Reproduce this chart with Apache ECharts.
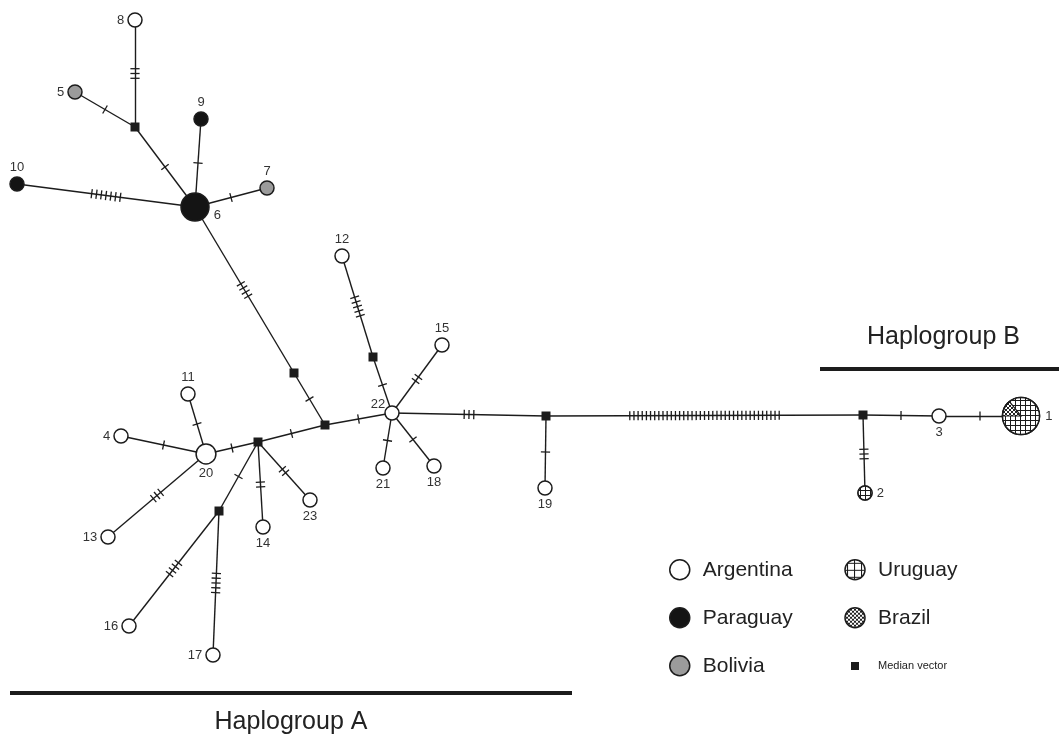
<!DOCTYPE html>
<html>
<head>
<meta charset="utf-8">
<script src="https://cdn.jsdelivr.net/npm/echarts@6/dist/echarts.min.js"></script>
<style>
  html, body { margin: 0; padding: 0; background: #fff; }
  #chart { width: 1059px; height: 738px; }
</style>
</head>
<body>
<div id="chart"></div>
<script>
// haplotypes (1-23) and median vectors (mv*), positions
const nodeNames = ['1','2','3','4','5','6','7','8','9','10','11','12','13','14','15','16','17','18','19','20','21','22','23',
  'mv1','mv2','mv3','mv4','mv5','mv6','mv7','mv8'];
const nodeX = [1021, 865, 939, 121, 75, 195, 267, 135, 201, 17, 188, 342, 108, 263, 442, 129, 213, 434, 545, 206, 383, 392, 310,
  135, 294, 325, 258, 219, 373, 546, 863];
const nodeY = [416, 493, 416, 436, 92, 207, 188, 20, 119, 184, 394, 256, 537, 527, 345, 626, 655, 466, 488, 454, 468, 413, 500,
  127, 373, 425, 442, 511, 357, 416, 415];
const nodeGroup = ['Uruguay','Uruguay','Argentina','Argentina','Bolivia','Paraguay','Bolivia','Argentina','Paraguay','Paraguay',
  'Argentina','Argentina','Argentina','Argentina','Argentina','Argentina','Argentina','Argentina','Argentina','Argentina','Argentina','Argentina','Argentina',
  'Median vector','Median vector','Median vector','Median vector','Median vector','Median vector','Median vector','Median vector'];
const nodeFreq = [7, 1, 1, 1, 1, 4, 1, 1, 1, 1, 1, 1, 1, 1, 1, 1, 1, 1, 1, 2, 1, 1, 1, 0, 0, 0, 0, 0, 0, 0, 0];
// Uruguay / Brazil counts for the patterned haplotypes (1 and 2)
const sharedNames = ['1', '2'];
const sharedUruguay = [6, 1];
const sharedBrazil = [1, 0];

// links and number of mutational steps
const edgeFrom  = ['8','5','mv1','9','10','7','6','mv2','mv3','mv3','mv4','11','4','13','mv4','mv4','mv4','mv5','mv5','12','mv6','22','22','22','22','mv7','mv7','mv8','mv8','3'];
const edgeTo    = ['mv1','mv1','6','6','6','6','mv2','mv3','mv4','22','20','20','20','20','14','23','mv5','16','17','mv6','22','15','21','18','mv7','19','mv8','2','3','1'];
const edgeSteps = [3, 1, 1, 1, 7, 1, 4, 1, 1, 1, 1, 1, 1, 3, 2, 2, 1, 4, 5, 5, 1, 2, 1, 1, 3, 1, 37, 3, 1, 1];

const groupNames = ['Haplogroup A', 'Haplogroup B'];
const groupStart = [10, 820];
const groupEnd = [572, 1059];
const groupY = [693, 369];

const legendLeft = ['Argentina', 'Paraguay', 'Bolivia'];
const legendRight = ['Uruguay', 'Brazil', 'Median vector'];

// label placement for haplotype numbers
const labelSide = ['right','right','bottom','left','left','right','top','left','top','top','top','top','left','bottom','top','left','left','bottom','bottom','bottom','bottom','left','bottom'];

const FONT = '"Liberation Sans", Arial, Helvetica, sans-serif';
const INK = '#1c1c1c';

function makePattern(size, draw) {
  const c = document.createElement('canvas');
  c.width = size; c.height = size;
  const ctx = c.getContext('2d');
  ctx.fillStyle = '#fff';
  ctx.fillRect(0, 0, size, size);
  draw(ctx, size);
  return { image: c, repeat: 'repeat' };
}
const gridFill = makePattern(5, (ctx, s) => { ctx.fillStyle = INK; ctx.fillRect(0, 0, s, 1); ctx.fillRect(0, 0, 1, s); });
const gridFillLegend = makePattern(7, (ctx, s) => { ctx.fillStyle = INK; ctx.fillRect(0, 3, s, 1); ctx.fillRect(3, 0, 1, s); });
const meshFill = makePattern(4, (ctx, s) => {
  ctx.fillStyle = '#222';
  for (let i = 0; i < s; i++) { ctx.fillRect(i, i, 1, 1); ctx.fillRect(s - 1 - i, i, 1, 1); }
});

const groupStyle = {
  'Argentina': { color: '#fff', borderColor: INK, borderWidth: 1.5 },
  'Paraguay': { color: '#141414', borderColor: INK, borderWidth: 1.5 },
  'Bolivia': { color: '#9b9b9b', borderColor: INK, borderWidth: 1.5 },
  'Uruguay': { color: gridFill, borderColor: INK, borderWidth: 1.5 },
  'Brazil': { color: meshFill, borderColor: INK, borderWidth: 1.5 },
  'Median vector': { color: INK, borderWidth: 0 }
};
const categoryNames = ['Argentina', 'Paraguay', 'Bolivia', 'Uruguay', 'Brazil', 'Median vector'];

function sizeOf(freq) {
  return freq > 0 ? 14 * Math.sqrt(freq) : 9;
}

const nodes = nodeNames.map((name, i) => {
  const isMv = nodeGroup[i] === 'Median vector';
  const item = {
    name: name,
    value: [nodeX[i], nodeY[i]],
    category: categoryNames.indexOf(nodeGroup[i]),
    symbol: isMv ? 'rect' : 'circle',
    symbolSize: sizeOf(nodeFreq[i])
  };
  // patterned fills are painted by the custom series below
  if (nodeGroup[i] === 'Uruguay') item.itemStyle = { color: '#fff' };
  if (isMv) {
    item.label = { show: false };
  } else {
    const lab = { show: true, position: labelSide[i], distance: 2 };
    if (labelSide[i] === 'left') lab.distance = 3;
    if (labelSide[i] === 'right') lab.distance = 4;
    if (name === '1') lab.distance = 5;
    if (name === '6') { lab.distance = 4; lab.offset = [0, 8]; }
    if (name === '22') { lab.distance = 2; lab.offset = [3, -9]; }
    item.label = lab;
  }
  return item;
});

const links = edgeFrom.map((f, i) => ({ source: nodeNames.indexOf(f), target: nodeNames.indexOf(edgeTo[i]) }));
const tickData = edgeFrom.map((f, i) => {
  const a = nodeNames.indexOf(f), b = nodeNames.indexOf(edgeTo[i]);
  return [nodeX[a], nodeY[a], nodeX[b], nodeY[b], edgeSteps[i]];
});
const sharedData = sharedNames.map((n, i) => {
  const k = nodeNames.indexOf(n);
  return [nodeX[k], nodeY[k], sharedUruguay[i], sharedBrazil[i], nodeFreq[k]];
});

const chart = echarts.init(document.getElementById('chart'));

const legendBase = {
  orient: 'vertical',
  top: 559,
  padding: 0,
  itemWidth: 36,
  itemHeight: 20,
  itemGap: 26.5,
  icon: 'circle',
  selectedMode: false,
  textStyle: { fontSize: 21, color: '#222', fontFamily: FONT }
};

const option = {
  backgroundColor: '#fff',
  animation: false,
  grid: { left: 0, right: 0, top: 0, bottom: 0 },
  xAxis: { type: 'value', min: 0, max: 1059, show: false },
  yAxis: { type: 'value', min: 0, max: 738, inverse: true, show: false },
  legend: [
    Object.assign({}, legendBase, {
      left: 669,
      data: legendLeft.map(n => ({ name: n, itemStyle: groupStyle[n] }))
    }),
    Object.assign({}, legendBase, {
      left: 837,
      data: legendRight.map(n => {
        if (n === 'Median vector') {
          return {
            name: n,
            icon: 'path://M0,0M36,20M14,6h8v8h-8z',
            itemStyle: { color: INK, borderWidth: 0 },
            textStyle: { fontSize: 11, lineHeight: 22 }
          };
        }
        const st = Object.assign({}, groupStyle[n]);
        if (n === 'Uruguay') st.color = gridFillLegend;
        return { name: n, itemStyle: st };
      })
    })
  ],
  series: [
    {
      type: 'graph',
      layout: 'none',
      coordinateSystem: 'cartesian2d',
      data: nodes,
      links: links,
      categories: categoryNames.map(n => ({ name: n, itemStyle: groupStyle[n] })),
      lineStyle: { color: INK, width: 1.4, opacity: 1, curveness: 0 },
      label: { show: true, formatter: '{b}', fontSize: 13, color: '#333', fontFamily: FONT },
      emphasis: { disabled: true },
      z: 2
    },
    {
      // mutational steps drawn as hatch marks across each link
      type: 'custom',
      coordinateSystem: 'cartesian2d',
      data: tickData,
      encode: { x: 0, y: 1 },
      silent: true,
      z: 3,
      renderItem: function (params, api) {
        const a = api.coord([api.value(0), api.value(1)]);
        const b = api.coord([api.value(2), api.value(3)]);
        const n = api.value(4);
        const dx = b[0] - a[0], dy = b[1] - a[1];
        const len = Math.sqrt(dx * dx + dy * dy);
        const ux = dx / len, uy = dy / len;
        const px = -uy, py = ux;
        const mx = (a[0] + b[0]) / 2, my = (a[1] + b[1]) / 2;
        const gap = n > 20 ? 4.15 : 4.8;
        const half = 4.6;
        const children = [];
        for (let i = 0; i < n; i++) {
          const o = (i - (n - 1) / 2) * gap;
          const cx = mx + ux * o, cy = my + uy * o;
          children.push({
            type: 'line',
            shape: { x1: cx - px * half, y1: cy - py * half, x2: cx + px * half, y2: cy + py * half },
            style: { stroke: INK, lineWidth: 1.3 }
          });
        }
        return { type: 'group', children: children };
      }
    },
    {
      // patterned haplotypes: Uruguay grid with a Brazil wedge
      type: 'custom',
      coordinateSystem: 'cartesian2d',
      data: sharedData,
      encode: { x: 0, y: 1 },
      silent: true,
      z: 4,
      renderItem: function (params, api) {
        const c = api.coord([api.value(0), api.value(1)]);
        const uy = api.value(2), br = api.value(3);
        const r = sizeOf(api.value(4)) / 2;
        const frac = br / (uy + br);
        const children = [{
          type: 'circle',
          shape: { cx: c[0], cy: c[1], r: r },
          style: { fill: gridFill, stroke: null }
        }];
        if (frac > 0) {
          children.push({
            type: 'sector',
            shape: { cx: c[0], cy: c[1], r0: 0, r: r, startAngle: Math.PI, endAngle: Math.PI + frac * Math.PI * 2, clockwise: true },
            style: { fill: meshFill, stroke: INK, lineWidth: 1.2 }
          });
        }
        children.push({
          type: 'circle',
          shape: { cx: c[0], cy: c[1], r: r },
          style: { fill: null, stroke: INK, lineWidth: 1.5 }
        });
        return { type: 'group', children: children };
      }
    },
    {
      // haplogroup brackets
      type: 'custom',
      coordinateSystem: 'cartesian2d',
      data: groupNames.map((n, i) => [groupStart[i], groupEnd[i], groupY[i]]),
      encode: { x: [0, 1], y: 2 },
      silent: true,
      z: 1,
      renderItem: function (params, api) {
        const p0 = api.coord([api.value(0), api.value(2)]);
        const p1 = api.coord([api.value(1), api.value(2)]);
        const below = params.dataIndex === 0;
        return {
          type: 'group',
          children: [
            {
              type: 'rect',
              shape: { x: p0[0], y: p0[1] - 2, width: p1[0] - p0[0], height: 4 },
              style: { fill: INK }
            },
            {
              type: 'text',
              style: {
                text: groupNames[params.dataIndex],
                x: (p0[0] + p1[0]) / 2 + (below ? 0 : 4),
                y: below ? p0[1] + 29 : p0[1] - 32,
                align: 'center',
                verticalAlign: 'middle',
                fontSize: 25,
                fontFamily: FONT,
                fill: '#222'
              }
            }
          ]
        };
      }
    }
  ]
};

chart.setOption(option);
</script>
</body>
</html>
